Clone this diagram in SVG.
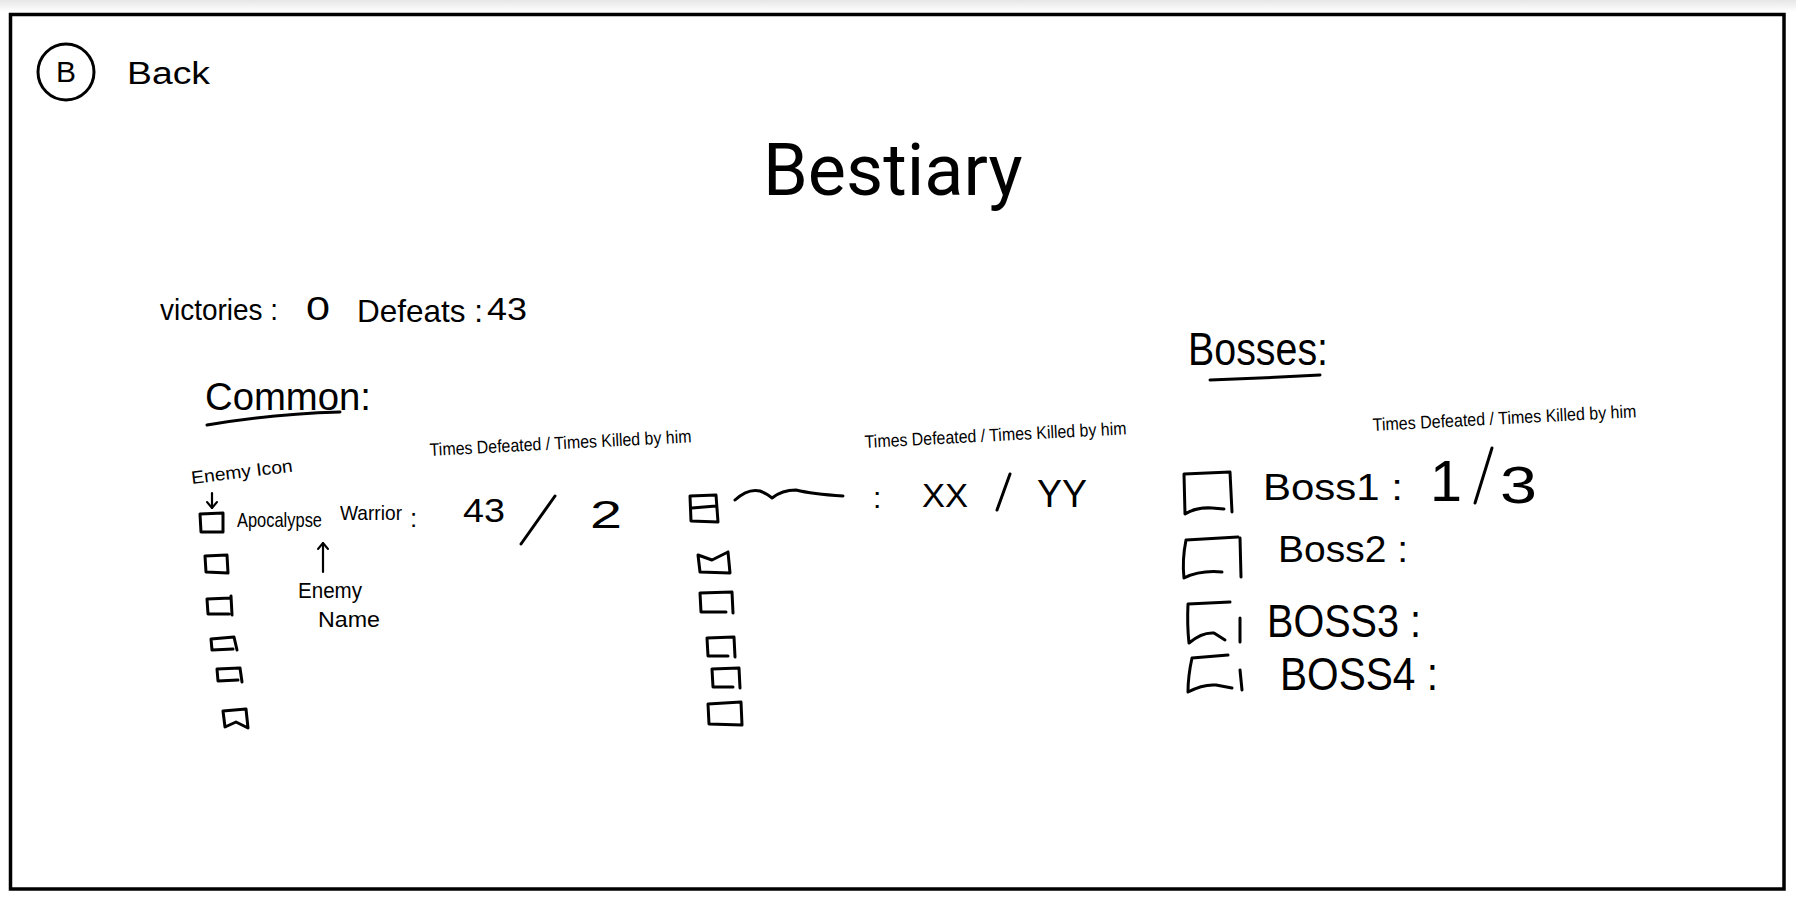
<svg xmlns="http://www.w3.org/2000/svg" width="1796" height="911" viewBox="0 0 1796 911">
  <defs>
    <linearGradient id="topShade" x1="0" y1="0" x2="0" y2="1">
      <stop offset="0" stop-color="#e6e6e6"/>
      <stop offset="1" stop-color="#ffffff"/>
    </linearGradient>
    <marker id="arrowHead" viewBox="0 0 12 12" refX="10" refY="6" markerWidth="12" markerHeight="12" markerUnits="userSpaceOnUse" orient="auto">
      <path d="M4,1 L10,6 L4,11" fill="none" stroke="#000" stroke-width="2" stroke-linecap="round" stroke-linejoin="round"/>
    </marker>
    <style>
      .ink { fill: none; stroke: #000; stroke-width: 3; stroke-linecap: round; stroke-linejoin: round; }
      .thin { fill: none; stroke: #000; stroke-width: 2.2; stroke-linecap: round; stroke-linejoin: round; }
      .hand { font-family: "Liberation Sans", "DejaVu Sans", sans-serif; fill: #000; }
      .title { font-family: Roboto, "Liberation Sans", sans-serif; font-size: 72px; fill: #000; }
      .label { font-size: 18px; }
    </style>
  </defs>

  <!-- page -->
  <rect x="0" y="0" width="1796" height="911" fill="#ffffff"/>
  <rect x="0" y="0" width="1796" height="12" fill="url(#topShade)"/>
  <rect x="10.5" y="14.5" width="1773.5" height="874.5" fill="none" stroke="#000" stroke-width="3.5"/>

  <!-- back button -->
  <g id="back">
    <ellipse class="ink" cx="66" cy="72" rx="28" ry="28"/>
    <text class="hand" x="66" y="82" font-size="30" text-anchor="middle">B</text>
    <text class="hand" x="127" y="84" font-size="31" textLength="83" lengthAdjust="spacingAndGlyphs">Back</text>
  </g>

  <!-- heading -->
  <g id="title">
    <text class="title" x="763" y="195">Bestiary</text>
  </g>

  <!-- totals -->
  <g id="totals">
    <text class="hand" x="160" y="320" font-size="30" textLength="118" lengthAdjust="spacingAndGlyphs">victories :</text>
    <text class="hand" x="306" y="320" font-size="34" textLength="24" lengthAdjust="spacingAndGlyphs">0</text>
    <text class="hand" x="357" y="322" font-size="32" textLength="126" lengthAdjust="spacingAndGlyphs">Defeats :</text>
    <text class="hand" x="487" y="320" font-size="32" textLength="40" lengthAdjust="spacingAndGlyphs">43</text>
  </g>

  <!-- common enemies section -->
  <g id="common-heading">
    <text class="hand" x="205" y="410" font-size="38" textLength="166" lengthAdjust="spacingAndGlyphs">Common:</text>
    <path class="ink" d="M207,425 Q270,414 340,412"/>
  </g>

  <g id="enemy-icon-note">
    <text class="hand label" x="192" y="484" textLength="102" lengthAdjust="spacingAndGlyphs" transform="rotate(-7 192 484)">Enemy Icon</text>
  </g>

  <g id="enemy-name-note">
    <text class="hand" x="298" y="598" font-size="22" textLength="64" lengthAdjust="spacingAndGlyphs">Enemy</text>
    <text class="hand" x="318" y="627" font-size="22" textLength="62" lengthAdjust="spacingAndGlyphs">Name</text>
  </g>

  <g id="common-row-1">
    <text class="hand" x="237" y="527" font-size="21" textLength="85" lengthAdjust="spacingAndGlyphs">Apocalypse</text>
    <text class="hand" x="340" y="520" font-size="21" textLength="62" lengthAdjust="spacingAndGlyphs">Warrior</text>
    <text class="hand" x="410" y="527" font-size="26">:</text>
    <text class="hand" x="463" y="522" font-size="34" textLength="42" lengthAdjust="spacingAndGlyphs">43</text>
    <path class="ink" d="M521,544 L555,496"/>
    <text class="hand" x="590" y="528" font-size="38" textLength="32" lengthAdjust="spacingAndGlyphs">2</text>
  </g>

  <g id="common-header-1">
    <text class="hand label" x="430" y="456" textLength="262" lengthAdjust="spacingAndGlyphs" transform="rotate(-3 430 456)">Times Defeated / Times Killed by him</text>
  </g>

  <g id="common-icons-1">
    <path class="ink" d="M200,514 L223,513 L223,532 L201,532 Z"/>
    <path class="ink" d="M205,556 L227,555 L228,573 L206,572 Z"/>
    <path class="ink" d="M207,599 L231,598 M231,596 L232,615 M207,599 L208,614 L229,614"/>
    <path class="ink" d="M211,639 L234,637 L237,650 M211,639 L212,650 L233,649"/>
    <path class="ink" d="M217,669 L240,668 L242,682 M217,669 L218,681 L238,680"/>
    <path class="ink" d="M223,711 L246,709 L248,728 L236,722 L225,727 Z"/>
  </g>

  <!-- second column of common enemies -->
  <g id="common-header-2">
    <text class="hand label" x="865" y="448" textLength="262" lengthAdjust="spacingAndGlyphs" transform="rotate(-3 865 448)">Times Defeated / Times Killed by him</text>
  </g>

  <g id="common-row-2">
    <path class="ink" d="M735,500 Q748,488 760,491 Q768,494 772,498 Q782,490 796,490 Q812,494 843,496"/>
    <text class="hand" x="873" y="508" font-size="30">:</text>
    <text class="hand" x="922" y="507" font-size="34" textLength="46" lengthAdjust="spacingAndGlyphs">XX</text>
    <path class="ink" d="M997,510 L1010,474"/>
    <text class="hand" x="1037" y="507" font-size="38" textLength="50" lengthAdjust="spacingAndGlyphs">YY</text>
  </g>

  <g id="common-icons-2">
    <path class="ink" d="M690,496 L716,495 L718,522 L691,521 Z M692,508 L716,506"/>
    <path class="ink" d="M698,555 L712,560 L728,552 M728,552 L730,573 L700,572 L698,555"/>
    <path class="ink" d="M700,593 L732,592 L733,613 M700,593 L701,612 L726,612"/>
    <path class="ink" d="M707,638 L734,637 L735,657 M707,638 L708,656 L728,656"/>
    <path class="ink" d="M712,669 L739,668 L740,688 M712,669 L713,687 L733,687"/>
    <path class="ink" d="M708,704 L741,702 L742,725 L709,724 Z"/>
  </g>

  <!-- bosses section -->
  <g id="bosses-heading">
    <text class="hand" x="1188" y="365" font-size="46" textLength="140" lengthAdjust="spacingAndGlyphs">Bosses:</text>
    <path class="ink" d="M1210,380 Q1265,378 1320,375"/>
  </g>

  <g id="bosses-header">
    <text class="hand label" x="1373" y="431" textLength="264" lengthAdjust="spacingAndGlyphs" transform="rotate(-3 1373 431)">Times Defeated / Times Killed by him</text>
  </g>

  <g id="boss-1">
    <path class="ink" d="M1184,474 L1230,472 L1232,512 M1184,474 L1185,514 Q1196,507 1212,508 L1224,509"/>
    <text class="hand" x="1263" y="500" font-size="36" textLength="140" lengthAdjust="spacingAndGlyphs">Boss1 :</text>
    <text class="hand" x="1430" y="501" font-size="58" textLength="32" lengthAdjust="spacingAndGlyphs">1</text>
    <path class="ink" d="M1475,503 L1492,448"/>
    <text class="hand" x="1500" y="503" font-size="52" textLength="37" lengthAdjust="spacingAndGlyphs">3</text>
  </g>

  <g id="boss-2">
    <path class="ink" d="M1186,540 L1238,537 M1240,538 L1241,577 M1186,540 Q1182,560 1184,578 Q1200,570 1222,572"/>
    <text class="hand" x="1278" y="562" font-size="36" textLength="130" lengthAdjust="spacingAndGlyphs">Boss2 :</text>
  </g>

  <g id="boss-3">
    <path class="ink" d="M1188,604 L1230,602 M1240,618 L1240,642 M1188,604 Q1187,625 1189,643 Q1202,632 1214,633 L1225,640"/>
    <text class="hand" x="1267" y="637" font-size="46" textLength="154" lengthAdjust="spacingAndGlyphs">BOSS3 :</text>
  </g>

  <g id="boss-4">
    <path class="ink" d="M1192,658 L1228,655 M1240,670 L1242,690 M1192,658 Q1188,676 1188,692 Q1203,684 1216,685 L1232,688"/>
    <text class="hand" x="1280" y="690" font-size="46" textLength="158" lengthAdjust="spacingAndGlyphs">BOSS4 :</text>
  </g>

  <!-- annotation pointers -->
  <g id="connectors">
    <path class="thin" d="M212,493 L212,508" marker-end="url(#arrowHead)"/>
    <path class="thin" d="M323,572 L323,543" marker-end="url(#arrowHead)"/>
  </g>
</svg>
